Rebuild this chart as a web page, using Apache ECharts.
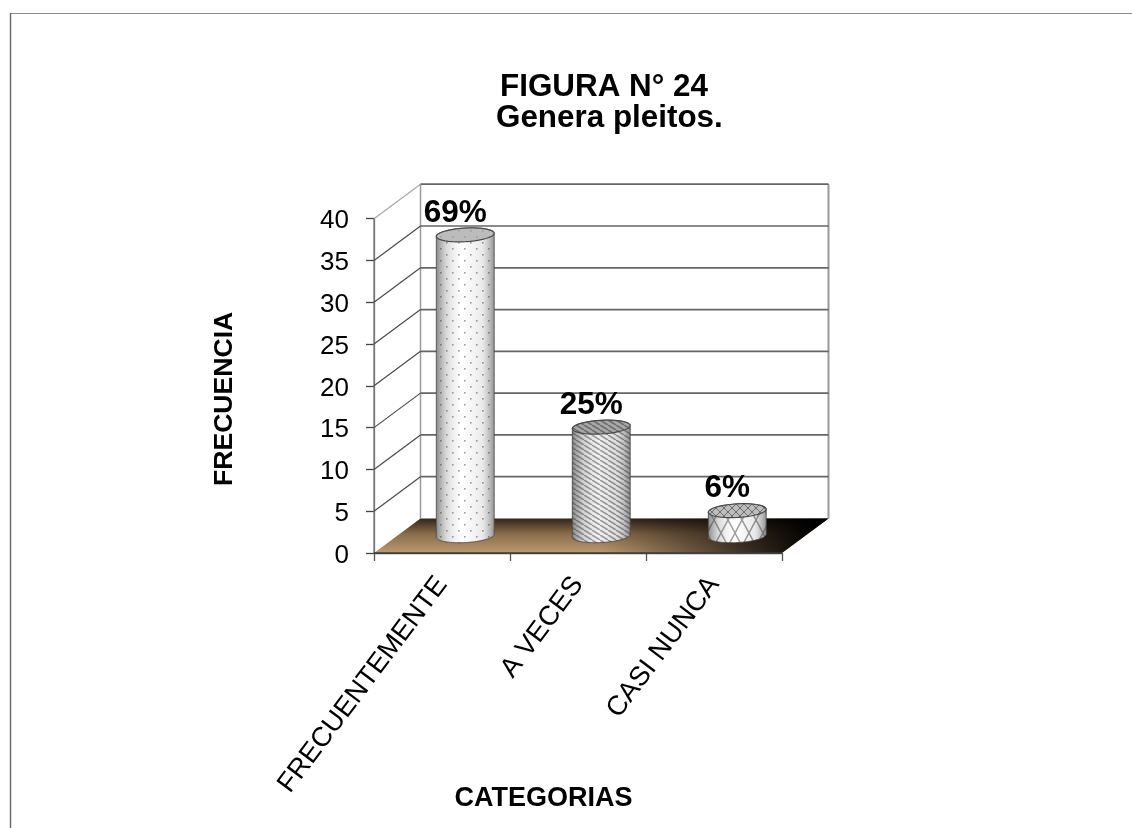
<!DOCTYPE html>
<html><head><meta charset="utf-8">
<style>html,body{margin:0;padding:0;background:#fff}#c{width:1132px;height:828px}</style>
<script src="https://cdn.jsdelivr.net/npm/echarts@6/dist/echarts.min.js"></script>
</head><body><div id="c"></div>
<script>
const categories = ['FRECUENTEMENTE', 'A VECES', 'CASI NUNCA'];
const frecuencia = [36, 13, 3];
const percentLabels = ['69%', '25%', '6%'];
const yTicks = [0, 5, 10, 15, 20, 25, 30, 35, 40];
const titleLines = ['FIGURA N° 24', 'Genera pleitos.'];

const DX = 46.5, DY = -34.5;   // depth of the 3D box
const FONT = '"Liberation Sans", Arial, sans-serif';

function tile(w, h, bg, draw) {
  const c = document.createElement('canvas'); c.width = w; c.height = h;
  const g = c.getContext('2d'); g.fillStyle = bg; g.fillRect(0, 0, w, h); draw(g); return c;
}
const dots = (bg, ink) => tile(12, 12, bg, g => {
  g.fillStyle = ink;
  g.fillRect(2, 2, 1.6, 1.6); g.fillRect(8, 8, 1.6, 1.6);
});
const stripes = (bg, ink) => tile(8, 5, bg, g => {
  g.strokeStyle = ink; g.lineWidth = 1.7;
  for (let i = -8; i <= 16; i += 8) { g.beginPath(); g.moveTo(i, 0); g.lineTo(i + 8, 5); g.stroke(); }
});
const lattice = (bg, ink) => tile(14, 26, bg, g => {
  g.strokeStyle = ink; g.lineWidth = 1.5;
  [[0, 0, 14, 26], [14, 0, 0, 26]].forEach(l => { g.beginPath(); g.moveTo(l[0], l[1]); g.lineTo(l[2], l[3]); g.stroke(); });
});
const bodyFills = [dots('#ffffff', '#909090'), stripes('#efefef', '#8c8c8c'), lattice('#ffffff', '#8f8f8f')];
const capFills = [dots('#bcbcbc', '#a0a0a0'), stripes('#a8a8a8', '#6e6e6e'), tile(8, 8, '#bdbdbd', g => {
  g.strokeStyle = '#6e6e6e'; g.lineWidth = 1; g.beginPath(); g.moveTo(0, 0); g.lineTo(8, 8); g.moveTo(8, 0); g.lineTo(0, 8); g.stroke();
})];

const RX = 29, RY = 6.8, TILT = -3.2 * Math.PI / 180;
function ell(cx, cy, t) {
  const x = RX * Math.cos(t), y = RY * Math.sin(t);
  return [cx + x * Math.cos(TILT) - y * Math.sin(TILT), cy + x * Math.sin(TILT) + y * Math.cos(TILT)];
}
function arc(cx, cy, a, b) {
  const pts = [];
  for (let i = 0; i <= 40; i++) pts.push(ell(cx, cy, a + (b - a) * i / 40));
  return pts;
}

function renderBox(params, api) {
  const cs = params.coordSys, xL = cs.x, xR = cs.x + cs.width, yB = cs.y + cs.height;
  const yTop = cs.y;
  const kids = [];
  const line = (x1, y1, x2, y2, stroke, w) => kids.push({
    type: 'line', shape: { x1, y1, x2, y2 }, style: { stroke, lineWidth: w || 1.3, fill: null }
  });
  line(xL + DX, yTop + DY, xL + DX, yB + DY, '#9a9a9a', 1.5);
  line(xR + DX, yTop + DY, xR + DX, yB + DY, '#9a9a9a', 2);
  line(xL, yTop, xL + DX, yTop + DY, '#a8a8a8', 1.2);
  line(xL, yB, xL, yTop, '#777', 1.3);
  yTicks.forEach(t => {
    if (t === 0) return;
    const y = api.coord([0, t])[1];
    line(xL + DX, y + DY, xR + DX, y + DY, '#666', 1.7);
    if (t !== 40) line(xL, y, xL + DX, y + DY, '#4a4a4a', 1.2);
  });
  const floor = [[xL, yB], [xL + DX, yB + DY], [xR + DX, yB + DY], [xR, yB]];
  kids.push({
    type: 'polygon', shape: { points: floor },
    style: { fill: new echarts.graphic.LinearGradient(0, 0, 0, 1, [
      { offset: 0, color: '#33251a' }, { offset: 0.45, color: '#8b6d4c' }, { offset: 1, color: '#bb986f' }]) }
  });
  kids.push({
    type: 'polygon', shape: { points: floor },
    style: { fill: new echarts.graphic.LinearGradient(0, 0, 1, 0, [
      { offset: 0, color: 'rgba(0,0,0,0)' }, { offset: 0.5, color: 'rgba(0,0,0,0)' }, { offset: 0.97, color: 'rgba(0,0,0,1)' }, { offset: 1, color: 'rgba(0,0,0,1)' }]) }
  });
  line(xL, yB, xR, yB, '#3a3a3a', 1.6);
  return { type: 'group', children: kids };
}

function renderCyl(params, api) {
  const i = api.value(0), v = api.value(1);
  const top = api.coord([i, v]), base = api.coord([i, 0]);
  const cx = top[0] + DX / 2, yT = top[1] + DY / 2, yB = base[1] + DY / 2;
  const outline = arc(cx, yT, Math.PI, 2 * Math.PI).concat(arc(cx, yB, 0, Math.PI));
  const capPts = arc(cx, yT, 0, 2 * Math.PI);
  const stroke = '#4a4a4a';
  const shade = new echarts.graphic.LinearGradient(0, 0, 1, 0, [
    { offset: 0, color: 'rgba(70,70,70,0.65)' },
    { offset: 0.18, color: 'rgba(120,120,120,0.28)' },
    { offset: 0.45, color: 'rgba(255,255,255,0.15)' },
    { offset: 0.8, color: 'rgba(130,130,130,0.18)' },
    { offset: 1, color: 'rgba(70,70,70,0.6)' }]);
  return { type: 'group', children: [
    { type: 'polygon', shape: { points: outline }, style: { fill: { image: bodyFills[i], repeat: 'repeat' }, stroke: null } },
    { type: 'polygon', shape: { points: outline }, style: { fill: shade, stroke: 'rgba(60,60,60,0.75)', lineWidth: 1 } },
    { type: 'polygon', shape: { points: capPts }, style: { fill: { image: capFills[i], repeat: 'repeat' }, stroke, lineWidth: 1.2 } },
    { type: 'text', style: { text: percentLabels[i], x: cx - 10, y: yT - 22, fill: '#000',
        font: 'bold 31.5px ' + FONT, align: 'center', verticalAlign: 'middle' } }
  ] };
}

const chart = echarts.init(document.getElementById('c'), null, { renderer: 'canvas' });
chart.setOption({
  animation: false,
  backgroundColor: '#fff',
  graphic: [
    { type: 'line', silent: true, shape: { x1: 10, y1: 13.5, x2: 1132, y2: 13.5 }, style: { stroke: '#8a8a8a', lineWidth: 1.2 } },
    { type: 'line', silent: true, shape: { x1: 10.5, y1: 13, x2: 10.5, y2: 828 }, style: { stroke: '#666', lineWidth: 1.4 } }
  ],
  title: [
    { text: titleLines[0], left: 495, top: 67, textStyle: { fontFamily: FONT, fontWeight: 'bold', fontSize: 31.4, color: '#000' } },
    { text: titleLines[1], left: 491, top: 98, textStyle: { fontFamily: FONT, fontWeight: 'bold', fontSize: 31.4, color: '#000' } }
  ],
  grid: { left: 374, top: 218.7, width: 408, height: 334.3, containLabel: false },
  xAxis: {
    type: 'category', data: categories, boundaryGap: true,
    name: 'CATEGORIAS', nameLocation: 'middle', nameGap: 232, nameMoveOverlap: false,
    nameTextStyle: { fontFamily: FONT, fontWeight: 'bold', fontSize: 27, color: '#000', padding: [0, 69, 0, 0] },
    axisLine: { show: true, onZero: false, lineStyle: { color: '#555', width: 1.3 } },
    axisTick: { show: true, alignWithLabel: false, length: 8, lineStyle: { color: '#555', width: 1.3 } },
    axisLabel: { rotate: 53, margin: 27, fontFamily: FONT, fontSize: 27.3, color: '#000', interval: 0 },
    splitLine: { show: false }
  },
  yAxis: {
    type: 'value', min: 0, max: 40, interval: 5,
    name: 'FRECUENCIA', nameLocation: 'middle', nameGap: 136, nameRotate: 90, nameMoveOverlap: false,
    nameTextStyle: { fontFamily: FONT, fontWeight: 'bold', fontSize: 26.6, color: '#000', padding: [0, 26, 0, 0] },
    axisLine: { show: true, lineStyle: { color: '#777', width: 1.3 } },
    axisTick: { show: true, length: 8, lineStyle: { color: '#444', width: 1.3 } },
    axisLabel: { margin: 25, formatter: '{t|{value}}',
      rich: { t: { fontFamily: FONT, fontSize: 26, color: '#000', padding: [5, 0, 0, 0] } } },
    splitLine: { show: false }
  },
  series: [
    { type: 'custom', coordinateSystem: 'cartesian2d', data: [[0, 0]], renderItem: renderBox, silent: true, z: 1, clip: false },
    { type: 'custom', coordinateSystem: 'cartesian2d', data: frecuencia.map((v, i) => [i, v]),
      encode: { x: 0, y: 1 }, renderItem: renderCyl, z: 3, clip: false }
  ]
});
</script></body></html>
